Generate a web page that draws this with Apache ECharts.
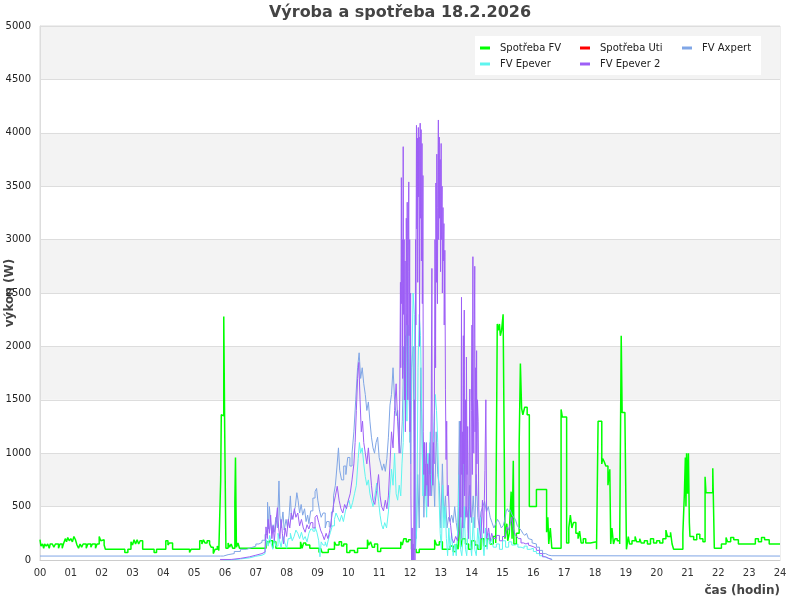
<!DOCTYPE html>
<html><head><meta charset="utf-8">
<script src="https://cdn.jsdelivr.net/npm/echarts@6/dist/echarts.min.js"></script>
<style>html,body{margin:0;padding:0;background:#fff}#c{width:800px;height:600px}</style>
</head><body><div id="c"></div>
<script>
const title = 'Výroba a spotřeba 18.2.2026';
const seriesNames = ['Spotřeba FV','Spotřeba Uti','FV Axpert','FV Epever','FV Epever 2'];
const legendColumns = [['Spotřeba FV','FV Epever'],['Spotřeba Uti','FV Epever 2'],['FV Axpert']];
const xTicks = ['00','01','02','03','04','05','06','07','08','09','10','11','12','13','14','15','16','17','18','19','20','21','22','23','24'];

const spotrebaFV = [[0.00,190],[0.03,130],[0.08,150],[0.12,110],[0.15,150],[0.2,130],[0.25,150],[0.3,110],[0.33,150],[0.4,150],[0.45,120],[0.5,150],[0.55,150],[0.6,110],[0.65,150],[0.72,110],[0.76,150],[0.82,200],[0.86,170],[0.9,210],[0.95,180],[1.0,200],[1.05,170],[1.1,220],[1.15,190],[1.2,140],[1.25,110],[1.3,150],[1.35,120],[1.4,150],[1.5,110],[1.55,150],[1.65,120],[1.7,150],[1.8,110],[1.85,150],[1.92,220],[1.97,180],[2.02,190],[2.08,140],[2.12,100],[2.75,70],[2.85,100],[2.95,170],[3.0,140],[3.05,190],[3.1,150],[3.15,190],[3.2,150],[3.25,180],[3.33,100],[3.7,70],[3.78,100],[4.08,180],[4.15,140],[4.2,160],[4.3,100],[4.85,70],[4.9,100],[5.18,180],[5.25,150],[5.3,190],[5.35,160],[5.42,180],[5.5,150],[5.55,120],[5.62,60],[5.68,100],[5.75,130],[5.8,90],[5.86,750],[5.88,1360],[5.92,1350],[5.96,2280],[5.99,1220],[6.03,110],[6.1,160],[6.15,120],[6.2,150],[6.25,110],[6.32,540],[6.34,960],[6.37,120],[6.42,160],[6.47,110],[7.33,170],[7.4,150],[7.45,180],[7.55,110],[7.58,170],[7.65,110],[8.45,170],[8.5,110],[8.55,160],[8.62,140],[8.75,110],[9.05,70],[9.1,110],[9.15,70],[9.35,100],[9.55,170],[9.6,140],[9.7,170],[9.78,130],[9.85,150],[9.95,70],[10.05,90],[10.2,70],[10.3,110],[10.62,190],[10.66,140],[10.72,170],[10.78,120],[10.85,150],[10.95,80],[11.05,110],[11.7,170],[11.75,140],[11.8,200],[11.88,170],[11.95,190],[12.05,100],[12.2,70],[12.3,100],[12.8,190],[12.86,140],[12.95,170],[13.05,100],[13.3,130],[13.4,80],[13.5,150],[13.56,100],[13.6,480],[13.64,120],[13.7,200],[13.8,150],[13.9,100],[14.0,180],[14.1,140],[14.2,100],[14.3,200],[14.4,130],[14.5,200],[14.6,150],[14.7,220],[14.78,160],[14.83,2210],[14.86,2150],[14.9,2210],[14.93,2100],[14.97,2150],[15.02,2300],[15.05,2310],[15.08,200],[15.14,340],[15.17,180],[15.22,250],[15.28,640],[15.31,200],[15.35,930],[15.37,150],[15.45,250],[15.54,1080],[15.58,1840],[15.62,1420],[15.66,1360],[15.72,1430],[15.8,1360],[15.87,500],[16.1,660],[16.43,260],[16.47,400],[16.5,150],[16.55,300],[16.6,110],[16.9,1410],[16.94,1340],[17.08,160],[17.15,300],[17.2,420],[17.25,300],[17.3,350],[17.38,250],[17.45,200],[17.5,270],[17.55,160],[17.62,200],[17.7,160],[17.85,170],[18.05,100],[18.1,1300],[18.22,900],[18.25,950],[18.3,920],[18.35,880],[18.42,700],[18.48,850],[18.51,150],[18.55,300],[18.6,150],[18.65,200],[18.72,180],[18.8,150],[18.85,2100],[18.88,1380],[18.97,1350],[19.02,100],[19.08,220],[19.12,150],[19.2,180],[19.3,220],[19.35,170],[19.45,200],[19.5,160],[19.6,180],[19.7,150],[19.8,200],[19.9,160],[20.0,180],[20.1,160],[20.2,200],[20.3,280],[20.35,220],[20.45,260],[20.5,150],[20.55,100],[20.85,250],[20.9,630],[20.93,960],[20.95,500],[20.97,1000],[21.0,620],[21.03,1000],[21.06,350],[21.08,220],[21.2,190],[21.3,240],[21.4,200],[21.5,170],[21.57,780],[21.6,630],[21.82,860],[21.87,110],[22.1,150],[22.25,210],[22.3,170],[22.4,210],[22.5,190],[22.65,150],[23.2,200],[23.3,170],[23.4,210],[23.5,190],[23.65,150],[24,150]];

const spotrebaUti = [];

const fvAxpert = [[0,37],[5.85,37],[5.95,50],[6.1,60],[6.3,80],[6.5,100],[6.7,115],[6.85,130],[7.0,150],[7.1,165],[7.2,185],[7.3,240],[7.38,540],[7.41,290],[7.44,500],[7.48,350],[7.52,250],[7.56,330],[7.6,260],[7.65,400],[7.7,300],[7.75,740],[7.78,420],[7.82,300],[7.88,450],[7.92,280],[7.98,380],[8.03,300],[8.08,420],[8.12,600],[8.16,380],[8.22,420],[8.28,500],[8.33,630],[8.37,560],[8.42,440],[8.47,520],[8.52,420],[8.58,480],[8.63,360],[8.68,420],[8.72,340],[8.78,460],[8.85,580],[8.92,640],[8.97,670],[9.01,560],[9.06,470],[9.12,400],[9.18,440],[9.25,300],[9.3,360],[9.38,310],[9.45,450],[9.52,600],[9.58,700],[9.63,870],[9.68,1050],[9.72,840],[9.78,750],[9.85,880],[9.92,800],[9.98,960],[10.05,880],[10.12,1000],[10.18,1200],[10.24,1500],[10.3,1800],[10.35,1940],[10.4,1700],[10.45,1800],[10.5,1650],[10.55,1550],[10.6,1400],[10.65,1480],[10.7,1300],[10.75,1150],[10.8,1050],[10.85,1000],[10.9,1100],[10.95,1150],[11.0,960],[11.05,900],[11.1,840],[11.15,900],[11.2,830],[11.25,950],[11.3,1150],[11.35,1450],[11.4,1550],[11.45,1800],[11.5,1500],[11.55,1350],[11.6,1400],[11.65,1100],[11.7,1000],[11.75,1300],[11.8,2000],[11.85,1500],[11.9,2300],[11.95,1900],[12.0,1100],[12.05,1800],[12.1,2000],[12.15,600],[12.2,200],[12.25,800],[12.3,300],[12.35,1800],[12.4,1000],[12.45,400],[12.5,900],[12.55,600],[12.6,850],[12.65,1100],[12.7,600],[12.75,900],[12.8,500],[12.85,1200],[12.9,800],[12.95,700],[13.0,300],[13.05,900],[13.1,400],[13.15,600],[13.2,300],[13.25,400],[13.3,360],[13.35,420],[13.4,350],[13.45,500],[13.5,350],[13.55,250],[13.6,1300],[13.64,400],[13.68,200],[13.72,1100],[13.76,300],[13.82,500],[13.88,400],[13.94,700],[14.0,350],[14.05,600],[14.1,300],[14.15,800],[14.2,400],[14.25,300],[14.3,450],[14.36,500],[14.42,550],[14.48,450],[14.54,500],[14.6,400],[14.66,350],[14.72,300],[14.78,340],[14.84,380],[14.9,350],[14.96,300],[15.02,320],[15.08,380],[15.12,460],[15.16,480],[15.2,450],[15.25,470],[15.3,430],[15.36,400],[15.42,380],[15.48,320],[15.54,300],[15.6,280],[15.66,250],[15.72,230],[15.78,250],[15.84,200],[15.9,190],[15.96,160],[16.02,150],[16.1,120],[16.2,90],[16.3,60],[16.4,45],[16.5,40],[16.6,37],[24,37]];

const fvEpever = [[5.95,0],[6.2,10],[6.5,20],[6.8,35],[7.0,45],[7.2,60],[7.3,100],[7.35,190],[7.4,130],[7.45,230],[7.5,150],[7.55,100],[7.6,200],[7.65,130],[7.72,250],[7.77,180],[7.82,120],[7.88,220],[7.94,160],[8.0,110],[8.05,200],[8.12,250],[8.18,180],[8.24,220],[8.3,280],[8.36,250],[8.42,200],[8.48,260],[8.54,190],[8.6,220],[8.66,170],[8.72,250],[8.78,290],[8.85,270],[8.92,310],[8.98,260],[9.04,180],[9.08,30],[9.12,170],[9.18,140],[9.25,170],[9.3,125],[9.36,200],[9.42,260],[9.48,320],[9.55,380],[9.6,440],[9.66,400],[9.72,360],[9.78,420],[9.84,360],[9.9,450],[9.96,520],[10.02,560],[10.08,480],[10.14,540],[10.2,620],[10.26,700],[10.32,950],[10.36,1100],[10.4,1000],[10.45,1050],[10.5,900],[10.55,780],[10.6,700],[10.65,750],[10.7,620],[10.75,560],[10.8,500],[10.86,600],[10.92,720],[10.98,550],[11.03,420],[11.08,330],[11.13,290],[11.18,350],[11.24,300],[11.3,450],[11.35,650],[11.4,850],[11.45,700],[11.5,1000],[11.55,620],[11.6,560],[11.65,700],[11.7,600],[11.74,900],[11.78,1100],[11.82,1700],[11.86,2100],[11.9,1300],[11.94,2200],[11.98,1500],[12.02,900],[12.06,1800],[12.1,2500],[12.14,2300],[12.18,100],[12.22,300],[12.26,1800],[12.3,2300],[12.34,2100],[12.38,1400],[12.42,600],[12.46,1100],[12.5,700],[12.54,400],[12.58,1000],[12.62,800],[12.66,1200],[12.7,700],[12.74,1000],[12.78,1300],[12.82,1550],[12.86,1400],[12.9,1100],[12.94,600],[12.98,250],[13.02,100],[13.06,700],[13.1,300],[13.14,500],[13.18,200],[13.22,40],[13.26,300],[13.3,100],[13.35,250],[13.4,40],[13.45,150],[13.5,40],[13.55,300],[13.6,800],[13.64,100],[13.68,40],[13.72,200],[13.76,500],[13.8,100],[13.84,40],[13.88,250],[13.92,600],[13.96,150],[14.0,40],[14.05,400],[14.1,100],[14.15,40],[14.2,300],[14.25,100],[14.3,400],[14.35,200],[14.4,40],[14.45,300],[14.5,100],[14.55,250],[14.6,150],[14.65,200],[14.7,120],[14.8,150],[14.9,100],[15.0,180],[15.1,120],[15.2,170],[15.3,140],[15.4,150],[15.5,120],[15.6,110],[15.7,130],[15.8,100],[15.9,110],[16.0,80],[16.1,60],[16.2,40],[16.3,25],[16.4,15],[16.5,8],[16.6,0]];

const fvEpever2 = [[5.84,5],[6.2,15],[6.5,30],[6.8,45],[7.0,60],[7.2,75],[7.3,120],[7.33,310],[7.37,200],[7.4,380],[7.44,250],[7.48,420],[7.52,200],[7.56,320],[7.6,180],[7.65,350],[7.7,490],[7.74,300],[7.78,200],[7.82,380],[7.86,250],[7.9,150],[7.95,300],[8.0,220],[8.05,380],[8.1,300],[8.15,440],[8.2,380],[8.25,480],[8.3,400],[8.36,440],[8.42,320],[8.48,380],[8.54,300],[8.6,260],[8.66,330],[8.72,290],[8.78,350],[8.85,300],[8.92,400],[8.98,420],[9.04,350],[9.1,280],[9.16,240],[9.22,190],[9.28,250],[9.34,200],[9.4,280],[9.46,400],[9.52,520],[9.58,600],[9.64,690],[9.7,560],[9.76,480],[9.82,440],[9.88,520],[9.94,480],[10.0,560],[10.06,620],[10.12,750],[10.18,900],[10.22,1100],[10.26,1400],[10.3,1700],[10.34,1850],[10.38,1500],[10.42,1200],[10.46,1300],[10.5,1100],[10.55,1000],[10.6,900],[10.65,1050],[10.7,880],[10.75,700],[10.8,560],[10.86,520],[10.92,650],[10.98,800],[11.03,600],[11.08,500],[11.14,460],[11.2,560],[11.25,480],[11.3,600],[11.35,900],[11.4,1200],[11.45,1050],[11.5,1400],[11.55,1650],[11.6,1300],[11.65,1000],[11.67,1600],[11.69,2600],[11.70,1800],[11.72,3580],[11.73,2400],[11.75,3000],[11.76,1700],[11.78,3870],[11.79,2300],[11.81,3000],[11.82,1500],[11.84,2800],[11.85,1200],[11.87,2000],[11.88,3200],[11.90,2200],[11.91,3350],[11.93,1500],[11.94,2700],[11.96,3540],[11.97,2100],[11.99,3000],[12.00,1200],[12.02,2500],[12.03,600],[12.05,0],[12.07,300],[12.08,0],[12.10,150],[12.12,0],[12.14,1500],[12.16,0],[12.18,3000],[12.19,2200],[12.21,4070],[12.22,3100],[12.24,3950],[12.25,2600],[12.27,4050],[12.28,3400],[12.30,3960],[12.31,2000],[12.33,4090],[12.34,3200],[12.36,4030],[12.37,2800],[12.39,3900],[12.40,2400],[12.42,3600],[12.43,1200],[12.45,800],[12.47,1100],[12.49,600],[12.51,900],[12.53,1100],[12.55,700],[12.57,900],[12.59,500],[12.61,800],[12.63,1000],[12.65,600],[12.67,800],[12.69,1500],[12.71,2730],[12.72,900],[12.74,700],[12.76,1100],[12.78,900],[12.80,2000],[12.81,3000],[12.83,1800],[12.84,3530],[12.86,2600],[12.87,3800],[12.89,2400],[12.90,3300],[12.92,4120],[12.93,3000],[12.95,3960],[12.96,3200],[12.98,3750],[12.99,2700],[13.01,3900],[13.02,3000],[13.04,3500],[13.05,2500],[13.07,3300],[13.08,2800],[13.10,3150],[13.11,2200],[13.13,2900],[13.15,1600],[13.17,940],[13.19,1300],[13.21,600],[13.24,700],[13.28,400],[13.32,320],[13.36,200],[13.42,160],[13.48,220],[13.54,180],[13.6,300],[13.62,900],[13.64,1300],[13.65,400],[13.67,2460],[13.68,800],[13.70,1200],[13.71,300],[13.73,2100],[13.74,900],[13.76,2340],[13.77,600],[13.79,900],[13.80,1500],[13.82,400],[13.83,1900],[13.85,800],[13.87,1250],[13.88,300],[13.90,200],[13.92,1000],[13.94,1600],[13.95,500],[13.97,400],[13.99,1400],[14.01,2200],[14.02,800],[14.04,2840],[14.05,1500],[14.07,1000],[14.08,2000],[14.10,2750],[14.11,1200],[14.13,1800],[14.14,600],[14.16,1960],[14.17,900],[14.19,1500],[14.21,1300],[14.23,500],[14.25,300],[14.3,200],[14.35,560],[14.39,250],[14.43,840],[14.46,1500],[14.49,200],[14.55,300],[14.6,180],[14.65,250],[14.7,200],[14.8,230],[14.9,180],[15.0,220],[15.1,250],[15.15,310],[15.2,280],[15.25,340],[15.3,400],[15.35,300],[15.4,240],[15.46,220],[15.52,200],[15.6,160],[15.68,150],[15.76,160],[15.84,140],[15.9,125],[16.0,110],[16.1,90],[16.2,60],[16.3,30],[16.4,15],[16.5,5],[16.6,0]];

const colors = ['#00ff00','#ff0000','#80a6e6','#5ef5ef','#9d5ff6'];
const dataSets = [spotrebaFV, spotrebaUti, fvAxpert, fvEpever, fvEpever2];
const FONT = 'DejaVu Sans';
const legendLeft = [480, 580, 682];

const chart = echarts.init(document.getElementById('c'), null, {renderer:'canvas'});
chart.setOption({
  animation:false,
  backgroundColor:'#fff',
  title:{text:title,left:'center',top:0,textStyle:{fontFamily:FONT,fontSize:16,fontWeight:'bold',color:'#444'}},
  graphic:[{type:'rect',left:475,top:36,z:3,shape:{width:286,height:39},style:{fill:'#fff'}}],
  legend: legendColumns.map((col,i)=>({
    left:legendLeft[i], top:43, orient:'vertical', padding:0,
    itemWidth:10, itemHeight:3, itemGap:6, icon:'rect', z:4,
    textStyle:{fontFamily:FONT,fontSize:10,color:'#222',padding:[0,0,0,5]},
    data:col
  })),
  grid:{left:40,right:20,top:26,bottom:40,containLabel:false,outerBoundsMode:'none',show:true,borderColor:'#ddd',borderWidth:1,backgroundColor:'transparent'},
  xAxis:{
    type:'value',min:0,max:24,interval:1,
    name:'čas (hodin)',nameLocation:'end',nameGap:0,nameMoveOverlap:false,
    nameTextStyle:{fontFamily:FONT,fontSize:12,fontWeight:'bold',color:'#444',align:'right',verticalAlign:'top',padding:[25,0,0,0]},
    axisLine:{show:true,lineStyle:{color:'#ccc'}},
    axisTick:{show:false},
    splitLine:{show:false},
    axisLabel:{fontFamily:FONT,fontSize:10,color:'#333',margin:8,formatter:(v)=>xTicks[v]}
  },
  yAxis:{
    type:'value',min:0,max:5000,interval:500,
    name:'výkon (W)',nameLocation:'middle',nameGap:24,nameRotate:90,nameMoveOverlap:false,
    nameTextStyle:{fontFamily:FONT,fontSize:12,fontWeight:'bold',color:'#444'},
    axisLine:{show:true,lineStyle:{color:'#ddd'}},
    axisTick:{show:false},
    splitLine:{show:true,lineStyle:{color:'#ddd',width:1}},
    splitArea:{show:true,areaStyle:{color:['#ffffff','#f3f3f3']}},
    axisLabel:{fontFamily:FONT,fontSize:10,color:'#222',margin:9,formatter:(v)=>String(v)}
  },
  series: seriesNames.map((n,i)=>({
    name:n,type:'line',step:'end',data:dataSets[i],showSymbol:false,symbol:'none',
    color:colors[i],
    lineStyle:{color:colors[i],width:i===0?1.5:1},
    emphasis:{disabled:true}
  }))
});
</script></body></html>
